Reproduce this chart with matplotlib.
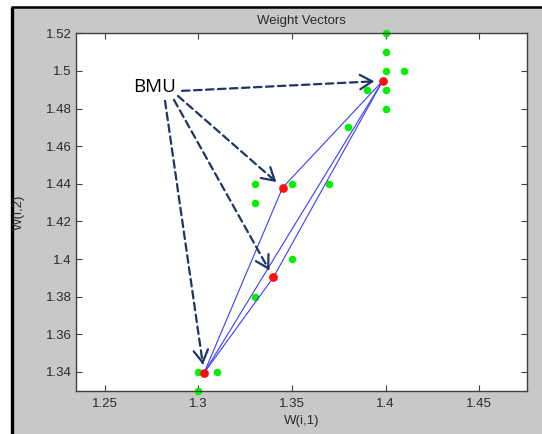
import matplotlib
matplotlib.use('Agg')
import matplotlib.pyplot as plt
from matplotlib.patches import Rectangle
from matplotlib.lines import Line2D
import numpy as np

# ---- data ----
data_x = [1.40, 1.40, 1.40, 1.41, 1.39, 1.40, 1.40, 1.38, 1.33, 1.35, 1.37, 1.33, 1.35, 1.33, 1.30, 1.31, 1.30]
data_y = [1.52, 1.51, 1.50, 1.50, 1.49, 1.49, 1.48, 1.47, 1.44, 1.44, 1.44, 1.43, 1.40, 1.38, 1.34, 1.34, 1.33]
neuron_x = [1.3985, 1.345, 1.340, 1.303]
neuron_y = [1.4947, 1.438, 1.3902, 1.3395]
edges = [(0, 1), (0, 2), (0, 3), (1, 3), (2, 3)]
x_ticks = [1.25, 1.30, 1.35, 1.40, 1.45]
x_ticklabels = ['1.25', '1.3', '1.35', '1.4', '1.45']
y_ticks = [1.34, 1.36, 1.38, 1.40, 1.42, 1.44, 1.46, 1.48, 1.50, 1.52]
y_ticklabels = ['1.34', '1.36', '1.38', '1.4', '1.42', '1.44', '1.46', '1.48', '1.5', '1.52']
title = 'Weight Vectors'
xlabel = 'W(i,1)'
ylabel = 'W(i,2)'
bmu_label = 'BMU'
bmu_pos = (1.2767, 1.4912)
arrow_start_x = [1.2912, 1.2890, 1.2869, 1.2821]
arrow_start_y = [1.4894, 1.4867, 1.4846, 1.4841]

W, H = 542, 434
fig = plt.figure(figsize=(W / 100, H / 100), dpi=100, facecolor='white')

# grey figure panel with black left/top border (screenshot look)
fig.patches.append(Rectangle((12 / W, 0), 1, 1 - 8 / H, transform=fig.transFigure,
                             facecolor='#c8c8c8', edgecolor='none', zorder=-3))
fig.add_artist(Line2D([11.5 / W, 11.5 / W], [0, 1 - 6.5 / H], transform=fig.transFigure,
                      color='black', lw=2.4, solid_capstyle='butt', zorder=-2))
fig.add_artist(Line2D([10.5 / W, 1], [1 - 7 / H, 1 - 7 / H], transform=fig.transFigure,
                      color='black', lw=1.8, solid_capstyle='butt', zorder=-2))

ax = fig.add_axes([76 / W, 1 - 390.7 / H, 450.7 / W, 357.4 / H])
ax.set_zorder(1)
ax.set_facecolor('white')
ax.set_xlim(1.2345, 1.4755)
ax.set_ylim(1.33, 1.52)

txtc = '#2a2a2a'
fam = ['Liberation Sans', 'DejaVu Sans']

ax.plot(data_x, data_y, linestyle='none', marker='o', markersize=5.4,
        color='#00f000', markeredgewidth=0, zorder=2, clip_on=False)
for a, b in edges:
    ax.plot([neuron_x[a], neuron_x[b]], [neuron_y[a], neuron_y[b]],
            color='#3c3cff', lw=0.8, zorder=3)
ax.plot(neuron_x, neuron_y, linestyle='none', marker='o', markersize=6.3,
        color='#ff1010', markeredgewidth=0, zorder=4)

ax.set_xticks(x_ticks)
ax.set_xticklabels(x_ticklabels)
ax.set_yticks(y_ticks)
ax.set_yticklabels(y_ticklabels)
ax.tick_params(direction='in', top=True, right=True, length=4, width=0.8,
               color='#404040', labelcolor=txtc, labelsize=9.5)
ax.tick_params(axis='x', pad=5)
ax.tick_params(axis='y', pad=3)
for lab in ax.get_xticklabels() + ax.get_yticklabels():
    lab.set_family(fam)
for s in ax.spines.values():
    s.set_color('#404040')
    s.set_linewidth(1.0)

ax.set_title(title, fontsize=9.5, color=txtc, family=fam, pad=7)
ax.set_xlabel(xlabel, fontsize=9.5, color=txtc, family=fam, labelpad=4)
ax.set_ylabel(ylabel, fontsize=9.5, color=txtc, family=fam)
ax.yaxis.set_label_coords(-0.114, 0.5)

# BMU annotation
ax.text(bmu_pos[0], bmu_pos[1], bmu_label, ha='center', va='center',
        fontsize=13.5, family=['Open Sans', 'DejaVu Sans'], color='black', zorder=6)

arrow_c = '#1f3566'
shrink_pt = 6.0
for sx, sy, nx, ny in zip(arrow_start_x, arrow_start_y, neuron_x, neuron_y):
    ax.annotate('', xy=(nx, ny), xytext=(sx, sy),
                arrowprops=dict(arrowstyle='-', color=arrow_c, lw=1.6,
                                linestyle=(0, (3.4, 2.0)), shrinkA=0, shrinkB=shrink_pt + 1),
                zorder=5)
    # solid open arrow head
    p_tip = ax.transData.transform((nx, ny))
    p_st = ax.transData.transform((sx, sy))
    d = p_st - p_tip
    dist = np.hypot(*d)
    back_px = shrink_pt / 72 * 100 + 4
    p_back = p_tip + d / dist * back_px
    hb = ax.transData.inverted().transform(p_back)
    ax.annotate('', xy=(nx, ny), xytext=(hb[0], hb[1]),
                arrowprops=dict(arrowstyle='->,head_length=0.44,head_width=0.26',
                                mutation_scale=20, color=arrow_c, lw=1.6,
                                shrinkA=0, shrinkB=shrink_pt),
                zorder=5)

fig.savefig('out.png', dpi=100, facecolor=fig.get_facecolor())
